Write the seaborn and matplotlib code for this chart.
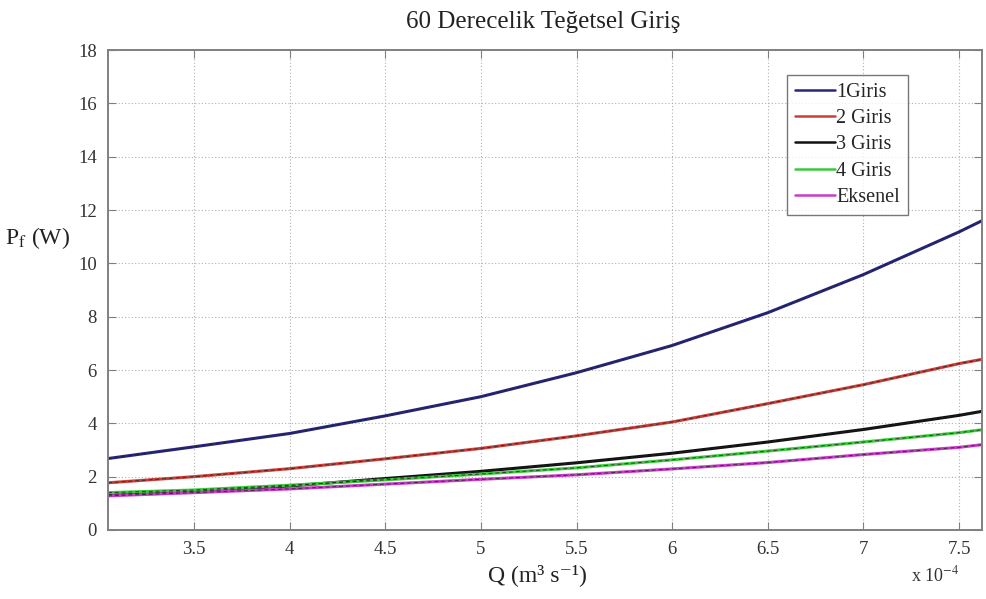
import matplotlib
matplotlib.use("Agg")
import matplotlib.pyplot as plt
import seaborn as sns
import pandas as pd

# ---- data (x in units of 1e-4 m^3/s) ----
q_values = [3.05, 3.5, 4.0, 4.5, 5.0, 5.5, 6.0, 6.5, 7.0, 7.5, 7.62]
giris1 = [2.68, 3.12, 3.62, 4.28, 5.00, 5.90, 6.92, 8.15, 9.58, 11.18, 11.60]
giris2 = [1.77, 2.00, 2.30, 2.67, 3.06, 3.53, 4.05, 4.74, 5.45, 6.24, 6.40]
giris3 = [1.33, 1.45, 1.65, 1.93, 2.20, 2.52, 2.88, 3.30, 3.77, 4.30, 4.45]
giris4 = [1.40, 1.50, 1.68, 1.88, 2.10, 2.33, 2.63, 2.96, 3.30, 3.65, 3.76]
eksenel = [1.28, 1.40, 1.54, 1.72, 1.90, 2.07, 2.29, 2.53, 2.83, 3.10, 3.20]

series_names = ["1Giris", "2 Giris", "3 Giris", "4 Giris", "Eksenel"]
series_values = [giris1, giris2, giris3, giris4, eksenel]
colors = ["#262680", "#c8403a", "#111111", "#3cc83c", "#c83cc8"]

x_ticks = [3.5, 4, 4.5, 5, 5.5, 6, 6.5, 7, 7.5]
y_ticks = list(range(0, 19, 2))

rows = []
for name, vals in zip(series_names, series_values):
    for q, v in zip(q_values, vals):
        rows.append({"Q": q, "P": v, "Seri": name})
df = pd.DataFrame(rows)

sns.set_style("whitegrid")
plt.rcParams["font.family"] = ["Liberation Serif", "DejaVu Serif"]
plt.rcParams["mathtext.fontset"] = "stix"

fig = plt.figure(figsize=(9.87, 5.99), dpi=100)
ax = fig.add_axes([0.1094, 0.1152, 0.8856, 0.8013])

palette = dict(zip(series_names, colors))
sns.lineplot(data=df, x="Q", y="P", hue="Seri", palette=palette,
             hue_order=series_names, linewidth=2.2, ax=ax, legend=False)
# thin dark dashed overlay (as in the original)
sns.lineplot(data=df, x="Q", y="P", units="Seri", estimator=None,
             color="#222222", linewidth=0.7, linestyle=(0, (4, 3)),
             ax=ax, legend=False, alpha=0.8)

ax.set_xlim(3.05, 7.62)
ax.set_ylim(0, 18)
ax.set_xticks(x_ticks)
ax.set_xticklabels([f"{t:g}" for t in x_ticks])
ax.set_yticks(y_ticks)
ax.set_yticklabels([str(t) for t in y_ticks])

ax.grid(True, color="#b0b0b0", linestyle=(0, (1, 2)), linewidth=0.8)
for s in ax.spines.values():
    s.set_visible(True)
    s.set_color("#808080")
    s.set_linewidth(1.4)
ax.tick_params(axis="both", direction="in", length=6, color="#808080",
               labelsize=13.5, labelcolor="#333333", top=True, right=True,
               bottom=True, left=True, pad=8)

ax.set_xlabel("")
ax.set_ylabel("")
fig.text(0.545, 0.04, "Q (m³ s⁻¹)", ha="center", va="center", fontsize=17, color="#222222")
fig.text(0.005, 0.603, "P$_{\\mathrm{f}}$ (W)", ha="left", va="center", fontsize=17, color="#222222")
fig.text(0.948, 0.04, "x 10$^{-4}$", ha="center", va="center", fontsize=13, color="#333333")
fig.text(0.55, 0.963, "60 Derecelik Teğetsel Giriş", ha="center", va="center",
         fontsize=18, color="#222222")

handles = [plt.Line2D([0], [0], color=c, linewidth=1.8) for c in colors]
leg = ax.legend(handles, series_names, loc="upper left",
                bbox_to_anchor=(787 / 987, 1 - 75 / 599), bbox_transform=fig.transFigure,
                frameon=True, fancybox=False, fontsize=14.5, handlelength=2.0,
                handletextpad=0.05, labelspacing=0.35, borderpad=0.4, borderaxespad=0)
leg.get_frame().set_edgecolor("#555555")
leg.get_frame().set_linewidth(1.0)

fig.savefig("out.png", dpi=100)
